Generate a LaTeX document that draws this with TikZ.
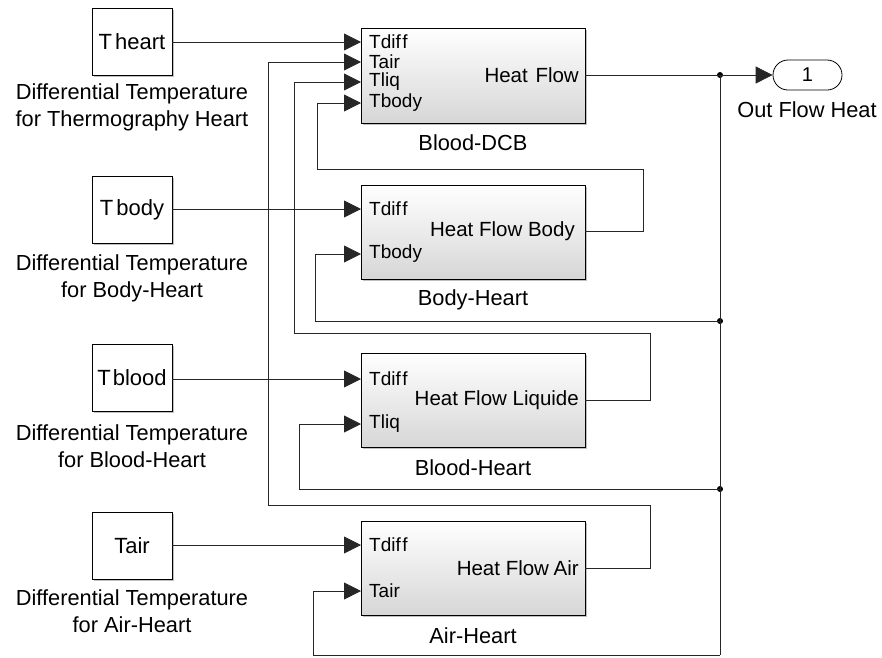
\documentclass[tikz,border=0pt]{standalone}
\usepackage{fontspec}
\setmainfont{Liberation Sans}
\usetikzlibrary{arrows.meta,shapes.misc}
\begin{document}
\begin{tikzpicture}[x=1pt,y=-1pt,
  wire/.style={draw=black!85,line width=0.8pt},
  sig/.style={wire,-{Triangle[length=17pt,width=17pt]}},
  srcbox/.style={draw,line width=0.8pt,fill=white,minimum width=80pt,minimum height=67pt,inner sep=0pt,
     font=\fontsize{22}{26}\selectfont},
  blk/.style={draw,line width=0.8pt,top color=white,bottom color=black!16,minimum width=224pt,inner sep=0pt},
  lbl/.style={font=\fontsize{21.8}{27}\selectfont,align=center,inner sep=0pt},
  port/.style={font=\fontsize{19}{21}\selectfont,anchor=west,inner sep=0pt},
  outtxt/.style={font=\fontsize{20.5}{23}\selectfont,anchor=east,inner sep=0pt},
  dot/.style={circle,fill=black,inner sep=0pt,minimum size=6pt}
]
\useasboundingbox (0,0) rectangle (882,657);
% shadows
\fill[black!25] (94,10) rectangle (174,77);
\fill[black!25] (94,178) rectangle (174,245);
\fill[black!25] (94,346) rectangle (174,413);
\fill[black!25] (94,514) rectangle (174,581);
\fill[black!25] (363,30) rectangle (587,125);
\fill[black!25] (363,187) rectangle (587,281);
\fill[black!25] (363,355) rectangle (587,449);
\fill[black!25] (363,523) rectangle (587,617);
% source blocks
\node[srcbox] (theart) at (132,41.5) {T\kern3pt heart};
\node[srcbox] (tbody) at (132,209.5) {T\kern3pt body};
\node[srcbox] (tblood) at (132,377.5) {T\kern2pt blood};
\node[srcbox] (tair) at (132,545.5) {Tair};
\node[lbl] (lab1) at (132,107) {Differential Temperature\\for Thermography Heart};
\node[lbl] (lab2) at (132,278) {Differential Temperature\\for Body-Heart};
\node[lbl] (lab3) at (132,446) {Differential Temperature\\for Blood-Heart};
\node[lbl] (lab4) at (132,611) {Differential Temperature\\for Air-Heart};
% subsystems
\node[blk,minimum height=95pt] (dcb) at (473,75.5) {};
\node[blk,minimum height=94pt] (body) at (473,232) {};
\node[blk,minimum height=94pt] (blood) at (473,400) {};
\node[blk,minimum height=94pt] (air) at (473,568) {};
\node[lbl] (dcblab) at (473,143) {Blood-DCB};
\node[lbl] (bodylab) at (473,300) {Body-Heart};
\node[lbl] (bloodlab) at (473,468) {Blood-Heart};
\node[lbl] (airlab) at (473,636) {Air-Heart};
% port labels
\node[port] (p1) at (369,42) {Tdif\kern1.5pt f};
\node[port] (p2) at (369,62) {Tair};
\node[port] (p3) at (369,82) {Tliq};
\node[port] (p4) at (369,103) {Tbody};
\node[outtxt] (o1) at (579,75) {Heat \kern2pt Flow};
\node[port] (p5) at (369,209) {Tdif\kern1.5pt f};
\node[port] (p6) at (369,254) {Tbody};
\node[outtxt] (o2) at (575,231) {Heat Flow Body};
\node[port] (p7) at (369,379) {Tdif\kern1.5pt f};
\node[port] (p8) at (369,424) {Tliq};
\node[outtxt] (o3) at (579,400) {Heat Flow Liquide};
\node[port] (p9) at (369,545) {Tdif\kern1.5pt f};
\node[port] (p10) at (369,591) {Tair};
\node[outtxt] (o4) at (579,568) {Heat Flow\kern-1pt\ Air};
% port coordinates
\coordinate (dcbA) at (361,42);
\coordinate (dcbB) at (361,62);
\coordinate (dcbC) at (361,82);
\coordinate (dcbD) at (361,103);
\coordinate (dcbO) at (585,75);
\coordinate (bodyA) at (361,209);
\coordinate (bodyB) at (361,254);
\coordinate (bodyO) at (585,231);
\coordinate (bloodA) at (361,379);
\coordinate (bloodB) at (361,424);
\coordinate (bloodO) at (585,400);
\coordinate (airA) at (361,545);
\coordinate (airB) at (361,591);
\coordinate (airO) at (585,568);
% junctions
\node[dot] (j1) at (720,75) {};
\node[dot] (j2) at (720,321) {};
\node[dot] (j3) at (720,489) {};
\coordinate (jbot) at (720,655);
% output port
\node[draw,line width=0.8pt,rounded rectangle,minimum width=69pt,minimum height=30pt,inner sep=0pt,
      font=\fontsize{20}{22}\selectfont] (out) at (807.5,75) {1};
\node[lbl] (outlab) at (807,110) {Out Flow Heat};
% forward signals
\draw[sig] (theart.east |- dcbA) -- (dcbA);
\draw[sig] (tbody.east |- bodyA) -- (bodyA);
\draw[sig] (tblood.east |- bloodA) -- (bloodA);
\draw[sig] (tair.east |- airA) -- (airA);
% output
\draw[wire] (dcbO) -- (j1.center);
\draw[sig] (j1.center) -- (out.west);
\draw[wire] (j1.center) -- (jbot);
% feedbacks
\draw[sig] (j2.center) -- (315,321) -- (315,254) -- (bodyB);
\draw[sig] (j3.center) -- (299,489) -- (299,424) -- (bloodB);
\draw[sig] (jbot) -- (313,655) -- (313,591) -- (airB);
\draw[sig] (bodyO) -- (643,231) -- (643,169) -- (317,169) -- (317,103) -- (dcbD);
\draw[sig] (bloodO) -- (650,400) -- (650,333) -- (294,333) -- (294,82) -- (dcbC);
\draw[sig] (airO) -- (650,568) -- (650,505) -- (268,505) -- (268,62) -- (dcbB);
\end{tikzpicture}
\end{document}
